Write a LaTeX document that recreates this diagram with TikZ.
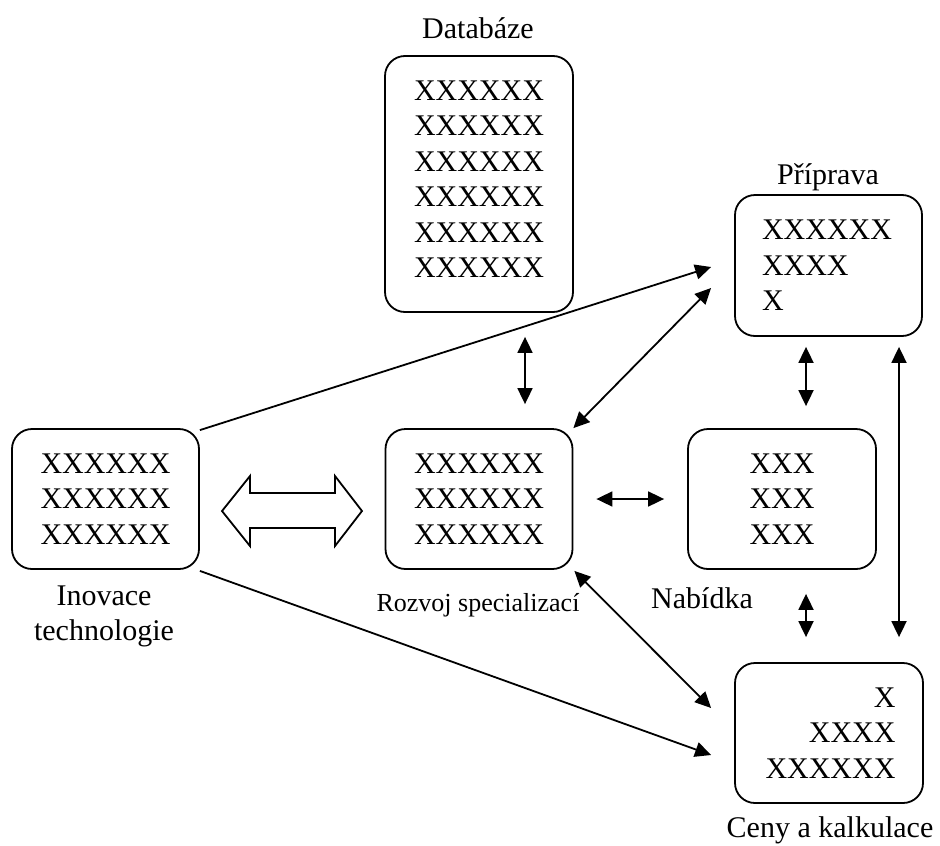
\documentclass[tikz,border=0pt]{standalone}
\usepackage{fontspec}
\setmainfont{Liberation Serif}
\usetikzlibrary{arrows.meta,calc}

\tikzset{
  box/.style={draw, line width=1.8pt, rounded corners=20pt, inner sep=0pt,
    font=\fontsize{30}{35.5}\selectfont},
  boxtext/.style={inner sep=0pt, align=center, font=\fontsize{30}{35.5}\selectfont},
  label/.style={font=\fontsize{30}{35}\selectfont, inner sep=0pt, align=center},
  smalllabel/.style={font=\fontsize{26}{30}\selectfont, inner sep=0pt},
  conn/.style={line width=1.8pt, -{Triangle[length=16pt,width=15pt]}},
  biconn/.style={line width=1.8pt, {Triangle[length=16pt,width=15pt]}-{Triangle[length=16pt,width=15pt]}},
  hollow/.style={draw, line width=1.8pt, fill=white, line join=miter}
}

\begin{document}
\begin{tikzpicture}[x=1pt,y=-1pt]
  \useasboundingbox (0,0) rectangle (940,846);

  % boxes
  \node[box, minimum width=188pt, minimum height=256pt] (db) at (479,184) {};
  \node[boxtext] (dbt) at ($(db.center)+(0,-5)$)
    {XXXXXX\\XXXXXX\\XXXXXX\\XXXXXX\\XXXXXX\\XXXXXX};
  \node[box, minimum width=187pt, minimum height=141pt, align=left, text width=133pt] (pr) at (828.5,265.5)
    {XXXXXX\\XXXX\\X};
  \node[box, minimum width=187pt, minimum height=140pt, align=center] (ino) at (105.5,499)
    {XXXXXX\\XXXXXX\\XXXXXX};
  \node[box, minimum width=187pt, minimum height=140pt, align=center] (roz) at (479,499)
    {XXXXXX\\XXXXXX\\XXXXXX};
  \node[box, minimum width=188pt, minimum height=140pt, align=center] (nab) at (782,499)
    {XXX\\XXX\\XXX};
  \node[box, minimum width=188pt, minimum height=140pt, align=right, text width=133pt] (ceny) at (829,733)
    {X\\XXXX\\XXXXXX};

  % captions
  \node[label] (dbl) at (478,28) {Databáze};
  \node[label] (prl) at (828,177) {Příprava};
  \node[label] (inol) at (104,616) {Inovace\\technologie};
  \node[smalllabel] (rozl) at (478,605) {Rozvoj specializací};
  \node[label] (nabl) at (702,598) {Nabídka};
  \node[label] (cenyl) at (830,830) {Ceny a kalkulace};

  % connector end points
  \coordinate (i1) at ($(ino.north east)+(0,2)$);
  \coordinate (i2) at ($(ino.south east)+(0,1)$);
  \coordinate (p1) at ($(pr.west)+(-23,1.5)$);
  \coordinate (p2) at ($(pr.west)+(-23,22.5)$);
  \coordinate (c1) at ($(ceny.west)+(-23,-25)$);
  \coordinate (c2) at ($(ceny.west)+(-23,22)$);
  \coordinate (r1) at ($(roz.north east)+(0,0)$);
  \coordinate (r2) at ($(roz.south east)+(1,1)$);

  % single arrows from the innovation box
  \draw[conn] (i1) -- (p1);
  \draw[conn] (i2) -- (c2);

  % double-headed links
  \draw[biconn] ($(db.south)+(46,24)$) -- ($(roz.north)+(46,-24)$);
  \draw[biconn] (r1) -- (p2);
  \draw[biconn] (r2) -- (c1);
  \draw[biconn] ($(roz.east)+(23,0)$) -- ($(nab.west)+(-23,0)$);
  \draw[biconn] ($(pr.south)+(-22.5,10)$) -- ($(nab.north)+(24,-22)$);
  \draw[biconn] ($(nab.south)+(24,24)$) -- ($(ceny.north)+(-23,-25)$);
  \draw[biconn] ($(pr.south)+(70.5,10)$) -- ($(ceny.north)+(70,-25)$);

  % hollow double arrow between innovation and development
  \draw[hollow] (222,511) -- (250,476) -- (250,493) -- (335,493) -- (335,476)
    -- (362,511) -- (335,546) -- (335,528) -- (250,528) -- (250,546) -- cycle;
\end{tikzpicture}
\end{document}
